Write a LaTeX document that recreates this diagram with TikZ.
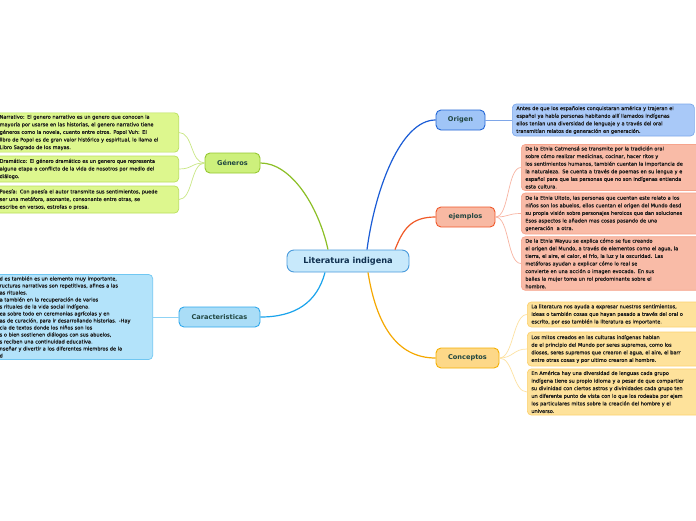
\documentclass[tikz,border=0pt]{standalone}
\usepackage{fontspec}
\setmainfont{DejaVu Sans}
\newfontfamily\boxfont{DejaVu Sans}[FakeBold=0.5]
\usetikzlibrary{calc}
\definecolor{labc}{HTML}{1F4540}
\definecolor{txt}{HTML}{1A1A1A}
\definecolor{litfill}{HTML}{C8E9FB}\definecolor{litdraw}{HTML}{4A9BDC}\definecolor{littext}{HTML}{10304F}
\definecolor{genfill}{HTML}{CDF07C}\definecolor{gendraw}{HTML}{96C832}\definecolor{genline}{HTML}{8CBF26}
\definecolor{gsubfill}{HTML}{DDF78E}\definecolor{gsubdraw}{HTML}{B9E05C}\definecolor{gsubline}{HTML}{C9E784}
\definecolor{carfill}{HTML}{AADDF7}\definecolor{cardraw}{HTML}{2FA8EC}\definecolor{carline}{HTML}{1AA3EC}
\definecolor{csubfill}{HTML}{B3E3FA}\definecolor{csubdraw}{HTML}{70C7F2}\definecolor{csubline}{HTML}{8FD3F5}
\definecolor{orifill}{HTML}{A0C5F7}\definecolor{oridraw}{HTML}{2366D6}\definecolor{oriline}{HTML}{1A5CD6}
\definecolor{osubfill}{HTML}{A9C9F8}\definecolor{osubdraw}{HTML}{7DA8EA}\definecolor{osubline}{HTML}{7EA6E8}
\definecolor{ejefill}{HTML}{F8B9A3}\definecolor{ejedraw}{HTML}{F0582A}\definecolor{ejeline}{HTML}{F05A28}
\definecolor{esubfill}{HTML}{F9BBA7}\definecolor{esubdraw}{HTML}{F6A48D}\definecolor{esubline}{HTML}{F8B4A2}
\definecolor{confill}{HTML}{FDD888}\definecolor{condraw}{HTML}{F5B000}\definecolor{conline}{HTML}{F5A800}
\definecolor{ksubfill}{HTML}{FEE29B}\definecolor{ksubdraw}{HTML}{FCD170}\definecolor{ksubline}{HTML}{FDE2A2}
\tikzset{
  branch/.style={rounded corners=5pt, line width=0.9pt, font=\fontsize{6.6}{8}\selectfont\bfseries,
    text=labc, inner sep=0pt, minimum height=20pt},
  subbox/.style={rounded corners=4pt, line width=0.7pt, font=\boxfont\fontsize{5}{7.6}\selectfont,
    text=txt, align=left, inner xsep=4pt, inner ysep=2pt},
  mainline/.style={line width=1.2pt},
  subline/.style={line width=0.7pt},
}
\begin{document}
\begin{tikzpicture}[x=1pt,y=-1pt]
\useasboundingbox (0,0) rectangle (696,520);
\clip (0,0) rectangle (696,520);
\fill[white] (0,0) rectangle (696,520);

% central node
\node[rounded corners=7pt, line width=0.9pt, draw=litdraw, fill=litfill, minimum width=122pt, minimum height=22pt,
  inner sep=0pt, font=\fontsize{8.2}{10}\selectfont\bfseries, text=littext] (lit) at (348,261) {Literatura indigena};

% branch nodes
\node[branch, draw=gendraw, fill=genfill, minimum width=55pt] (gen) at (232.5,163) {Géneros};
\node[branch, draw=cardraw, fill=carfill, minimum width=81pt] (car) at (219.5,317) {Caracteristicas};
\node[branch, draw=oridraw, fill=orifill, minimum width=49pt] (ori) at (460.5,120) {Origen};
\node[branch, draw=ejedraw, fill=ejefill, minimum width=59pt] (eje) at (465.5,217) {ejemplos};
\node[branch, draw=condraw, fill=confill, minimum width=63pt] (con) at (467.5,358) {Conceptos};

% main connectors
\draw[mainline, draw=genline] ($(lit.north)+(-20,0)$) .. controls +(-10,-45) and +(30,0) .. (gen.east);
\draw[mainline, draw=oriline] ($(lit.north)+(19,0)$) .. controls +(8,-60) and +(-35,0) .. (ori.west);
\draw[mainline, draw=ejeline] ($(lit.north)+(47,0)$) .. controls +(8,-20) and +(-25,0) .. (eje.west);
\draw[mainline, draw=conline] ($(lit.south)+(20,0)$) .. controls +(8,50) and +(-40,0) .. (con.west);
\draw[mainline, draw=carline] ($(lit.south)+(-23,0)$) .. controls +(-8,30) and +(35,0) .. (car.east);

% Generos children
\node[subbox, draw=gsubdraw, fill=gsubfill, anchor=east, text width=175pt, minimum height=39pt] (g1) at (179,132.5)
{Narrativo: El genero narrativo es un genero que conocen la\\
mayoría por usarse en las historias, el genero narrativo tiene\\
géneros como la novela, cuento entre otros. Popol Vuh: El\\
libro de Popol es de gran valor histórico y espiritual, lo llama el\\
Libro Sagrado de los mayas.};
\node[subbox, draw=gsubdraw, fill=gsubfill, anchor=east, text width=175pt, minimum height=26pt] (g2) at (179,169)
{Dramático: El género dramático es un genero que representa\\
alguna etapa o conflicto de la vida de nosotros por medio del\\
diálogo.};
\node[subbox, draw=gsubdraw, fill=gsubfill, anchor=east, text width=175pt, minimum height=27pt] (g3) at (179,199.5)
{Poesía: Con poesía el autor transmite sus sentimientos, puede\\
ser una metáfora, asonante, consonante entre otras, se\\
escribe en versos, estrofas o prosa.};
\foreach \b in {g1,g2,g3}
  \draw[subline, draw=gsubline] (gen.west) .. controls +(-14,0) and +(14,0) .. (\b.east);

% Caracteristicas child
\node[subbox, draw=csubdraw, fill=csubfill, anchor=east, text width=149pt, minimum height=84pt,
  font=\boxfont\fontsize{5}{7}\selectfont] (k1) at (153,317)
{\mbox{d es también es un elemento muy importante,}\\
\mbox{ructuras narrativas son repetitivas, afines a las}\\
\mbox{as rituales.}\\
\mbox{a también en la recuperación de varios}\\
\mbox{s rituales de la vida social indígena.}\\
\mbox{ea sobre todo en ceremonias agrícolas y en}\\
\mbox{as de curación, para ir desarrollando historias. -Hay}\\
\mbox{cia de textos donde los niños son los}\\
\mbox{s o bien sostienen diálogos con sus abuelos,}\\
\mbox{s reciben una continuidad educativa.}\\
\mbox{nseñar y divertir a los diferentes miembros de la}\\
\mbox{d}};
\draw[subline, draw=csubline] (car.west) -- (k1.east);

% Origen child
\node[subbox, draw=osubdraw, fill=osubfill, anchor=west, text width=174pt, minimum height=32pt] (o1) at (512,120)
{\mbox{Antes de que los españoles conquistaran américa y trajeran el}\\
\mbox{español ya había personas habitando allí llamados indígenas}\\
\mbox{ellos tenían una diversidad de lenguaje y a través del oral}\\
\mbox{transmitían relatos de generación en generación.}};
\draw[subline, draw=osubline] (ori.east) -- (o1.west);

% ejemplos children
\node[subbox, draw=esubdraw, fill=esubfill, anchor=west, text width=200pt, minimum height=45pt] (e1) at (521,167.5)
{De la Etnia Catmensá se transmite por la tradición oral\\
sobre cómo realizar medicinas, cocinar, hacer ritos y\\
los sentimientos humanos, también cuentan la importancia de\\
la naturaleza. Se cuenta a través de poemas en su lengua y e\\
español para que las personas que no son indígenas entienda\\
esta cultura.};
\node[subbox, draw=esubdraw, fill=esubfill, anchor=west, text width=200pt, minimum height=41pt] (e2) at (521,213.5)
{De la Etnia Uitoto, las personas que cuentan este relato a los\\
niños son los abuelos, ellos cuentan el origen del Mundo desd\\
su propia visión sobre personajes heroicos que dan soluciones\\
Esos aspectos le añaden mas cosas pasando de una\\
generación\ \ a otra.};
\node[subbox, draw=esubdraw, fill=esubfill, anchor=west, text width=200pt, minimum height=53pt] (e3) at (521,263.5)
{De la Etnia Wayuu se explica cómo se fue creando\\
el origen del Mundo, a través de elementos como el agua, la\\
tierra, el aire, el calor, el frío, la luz y la oscuridad. Las\\
metáforas ayudan a explicar cómo lo real se\\
convierte en una acción o imagen evocada. En sus\\
bailes la mujer toma un rol predominante sobre el\\
hombre.};
\foreach \b in {e1,e2,e3}
  \draw[subline, draw=esubline] (eje.east) .. controls +(14,0) and +(-14,0) .. (\b.west);

% Conceptos children
\node[subbox, draw=ksubdraw, fill=ksubfill, anchor=west, text width=200pt, minimum height=25pt] (c1) at (527,314.5)
{La literatura nos ayuda a expresar nuestros sentimientos,\\
ideas o también cosas que hayan pasado a través del oral o\\
escrito, por eso también la literatura es importante.};
\node[subbox, draw=ksubdraw, fill=ksubfill, anchor=west, text width=200pt, minimum height=34pt] (c2) at (527,349)
{Los mitos creados en las culturas indígenas hablan\\
de el principio del Mundo por seres supremos, como los\\
dioses, seres supremos que crearon el agua, el aire, el barr\\
entre otras cosas y por ultimo crearon al hombre.};
\node[subbox, draw=ksubdraw, fill=ksubfill, anchor=west, text width=200pt, minimum height=46pt] (c3) at (527,392)
{En América hay una diversidad de lenguas cada grupo\\
indígena tiene su propio idioma y a pesar de que compartier\\
su divinidad con ciertos astros y divinidades cada grupo ten\\
un diferente punto de vista con lo que los rodeaba por ejem\\
los particulares mitos sobre la creación del hombre y el\\
universo.};
\foreach \b in {c1,c2,c3}
  \draw[subline, draw=ksubline] (con.east) .. controls +(14,0) and +(-14,0) .. (\b.west);
\end{tikzpicture}
\end{document}
